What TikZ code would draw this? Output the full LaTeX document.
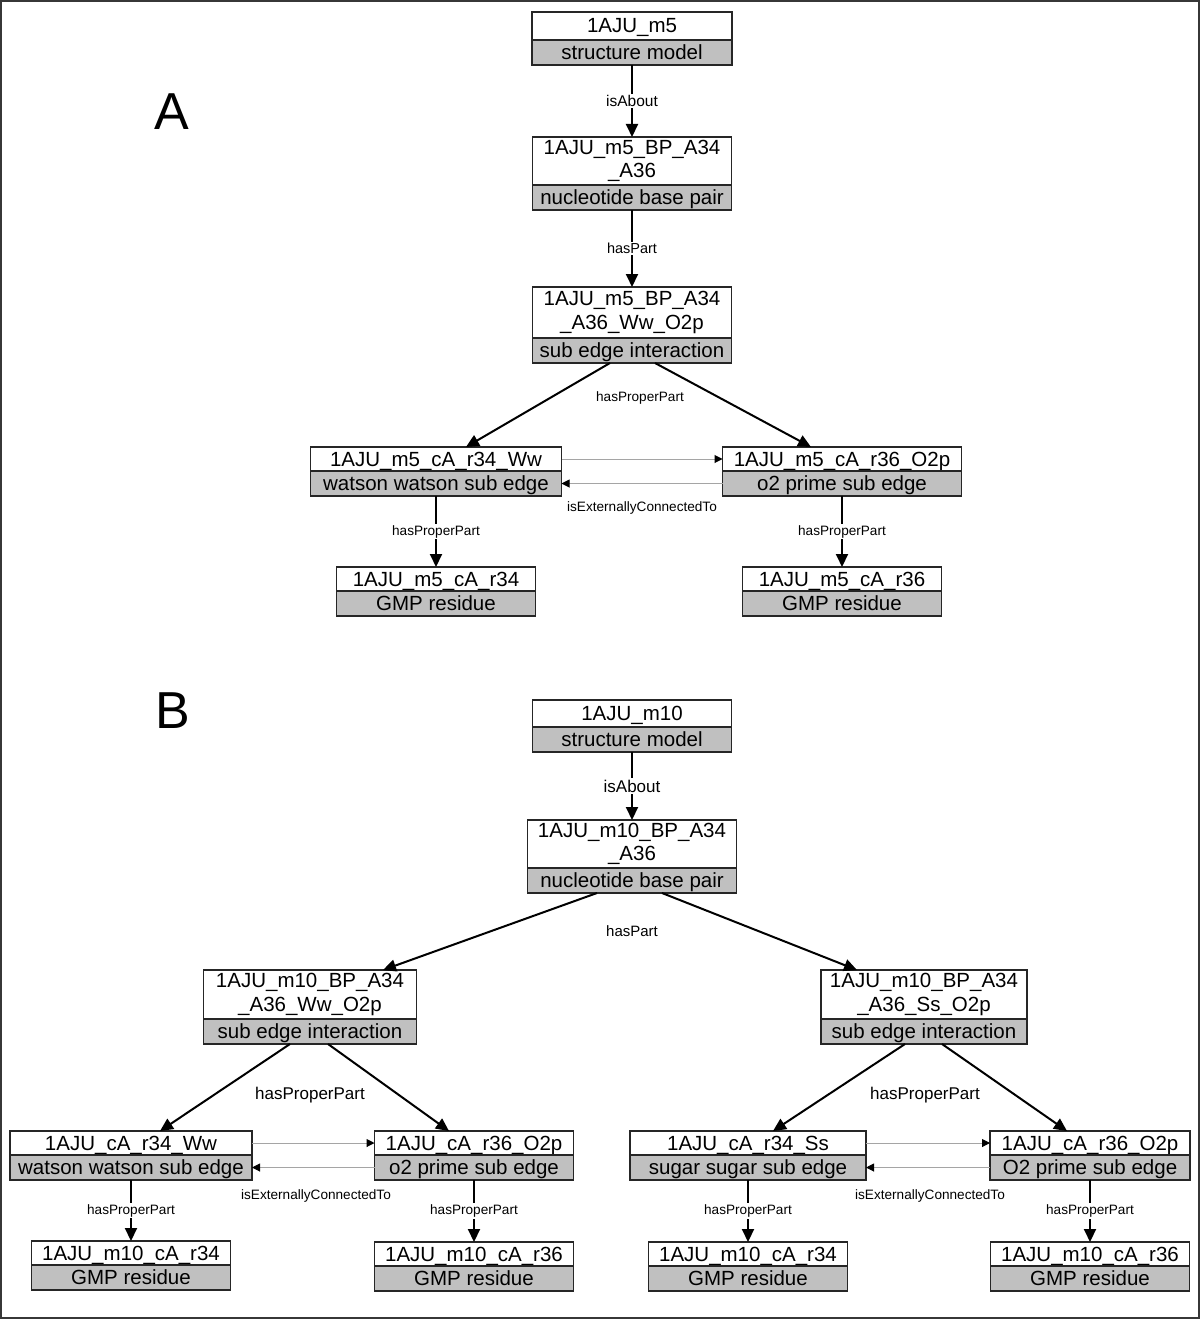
\documentclass[tikz,border=0pt]{standalone}
\usepackage{fontspec}
\setmainfont{Liberation Sans}
\usetikzlibrary{arrows.meta,positioning}

\definecolor{typegray}{RGB}{192,192,192}
\definecolor{relgray}{RGB}{165,165,165}
\definecolor{framegray}{RGB}{55,55,55}

\begin{document}
\begin{tikzpicture}[x=1pt,y=-1pt,
  box/.style={draw=black!85, line width=1.2pt, inner sep=0pt, outer sep=0pt,
    font=\fontsize{20.5}{23.5}\selectfont, minimum width=#1pt},
  namebox/.style={box=#1, fill=white, anchor=north, minimum height=24pt,
    text height=16pt, text depth=2pt},
  longbox/.style={box=#1, fill=white, anchor=north, minimum height=48pt, align=center},
  typebox/.style={box=#1, fill=typegray, minimum height=25pt,
    text height=16pt, text depth=2pt},
  rel/.style={-{Triangle[length=13pt,width=12pt]}, line width=2pt},
  extrel/.style={-{Triangle[length=8pt,width=8pt,color=black]}, line width=1pt, draw=relgray},
  lab/.style={fill=white, inner sep=1.5pt, font=\fontsize{13.6}{15}\selectfont},
  biglab/.style={fill=white, inner sep=1.5pt, font=\fontsize{17}{19}\selectfont},
  panel/.style={font=\fontsize{52}{54}\selectfont, inner sep=0pt}]

  \useasboundingbox (0,0) rectangle (1200,1319);
  \draw[framegray, line width=2pt] (1,1) rectangle (1199,1318);   % frame

  % ---------- A ----------
  \node[panel] (pA) at (172,112) {A};

  \node[namebox=200, minimum height=28pt] (m5) at (632,12) {1AJU\_m5};
  \node[typebox=200, below=0pt of m5] (m5t) {structure model};

  \node[longbox=199] (bp5) at (632,137) {1AJU\_m5\_BP\_A34\\\_A36};
  \node[typebox=199, below=0pt of bp5] (bp5t) {nucleotide base pair};

  \node[longbox=199, minimum height=51pt] (sub5) at (632,287) {1AJU\_m5\_BP\_A34\\\_A36\_Ww\_O2p};
  \node[typebox=199, below=0pt of sub5] (sub5t) {sub edge interaction};

  \node[namebox=251] (ww5) at (436,447) {1AJU\_m5\_cA\_r34\_Ww};
  \node[typebox=251, below=0pt of ww5] (ww5t) {watson watson sub edge};
  \node[namebox=239] (op5) at (842,447) {1AJU\_m5\_cA\_r36\_O2p};
  \node[typebox=239, below=0pt of op5] (op5t) {o2 prime sub edge};

  \node[namebox=199] (r34m5) at (436,567) {1AJU\_m5\_cA\_r34};
  \node[typebox=199, below=0pt of r34m5] (r34m5t) {GMP residue};
  \node[namebox=199] (r36m5) at (842,567) {1AJU\_m5\_cA\_r36};
  \node[typebox=199, below=0pt of r36m5] (r36m5t) {GMP residue};

  \draw[rel] (m5t) -- node[lab, font=\fontsize{15.5}{17}\selectfont] (ia5) {isAbout} (bp5);
  \draw[rel] (bp5t) -- node[lab, font=\fontsize{14.5}{16}\selectfont] (hp5) {hasPart} (sub5);
  \draw[rel] ([xshift=-22pt]sub5t.south) -- ([xshift=30pt]ww5.north);
  \draw[rel] ([xshift=23pt]sub5t.south) -- ([xshift=-31pt]op5.north);
  \node[lab] (hpp5) at (640,398) {hasProperPart};
  \draw[extrel] (ww5) -- (op5);
  \draw[extrel] (op5t) -- (ww5t);
  \node[lab] (iec5) at (642,508) {isExternallyConnectedTo};
  \draw[rel] (ww5t) -- node[lab] (hppa) {hasProperPart} (r34m5);
  \draw[rel] (op5t) -- node[lab] (hppb) {hasProperPart} (r36m5);

  % ---------- B ----------
  \node[panel] (pB) at (173,711) {B};

  \node[namebox=199, minimum height=27pt] (m10) at (632,700) {1AJU\_m10};
  \node[typebox=199, below=0pt of m10] (m10t) {structure model};

  \node[longbox=209] (bp10) at (632,820) {1AJU\_m10\_BP\_A34\\\_A36};
  \node[typebox=209, below=0pt of bp10] (bp10t) {nucleotide base pair};

  \node[longbox=213, minimum height=49pt] (ww10) at (310,970) {1AJU\_m10\_BP\_A34\\\_A36\_Ww\_O2p};
  \node[typebox=213, below=0pt of ww10] (ww10t) {sub edge interaction};
  \node[longbox=206, minimum height=49pt] (ss10) at (924,970) {1AJU\_m10\_BP\_A34\\\_A36\_Ss\_O2p};
  \node[typebox=206, below=0pt of ss10] (ss10t) {sub edge interaction};

  \node[namebox=242] (wwc) at (131,1131) {1AJU\_cA\_r34\_Ww};
  \node[typebox=242, below=0pt of wwc] (wwct) {watson watson sub edge};
  \node[namebox=199] (opc) at (474,1131) {1AJU\_cA\_r36\_O2p};
  \node[typebox=199, below=0pt of opc] (opct) {o2 prime sub edge};
  \node[namebox=236] (ssc) at (748,1131) {1AJU\_cA\_r34\_Ss};
  \node[typebox=236, below=0pt of ssc] (ssct) {sugar sugar sub edge};
  \node[namebox=200] (opd) at (1090,1131) {1AJU\_cA\_r36\_O2p};
  \node[typebox=200, below=0pt of opd] (opdt) {O2 prime sub edge};

  \node[namebox=199] (r34a) at (131,1241) {1AJU\_m10\_cA\_r34};
  \node[typebox=199, below=0pt of r34a] (r34at) {GMP residue};
  \node[namebox=199] (r36a) at (474,1242) {1AJU\_m10\_cA\_r36};
  \node[typebox=199, below=0pt of r36a] (r36at) {GMP residue};
  \node[namebox=199] (r34b) at (748,1242) {1AJU\_m10\_cA\_r34};
  \node[typebox=199, below=0pt of r34b] (r34bt) {GMP residue};
  \node[namebox=199] (r36b) at (1090,1242) {1AJU\_m10\_cA\_r36};
  \node[typebox=199, below=0pt of r36b] (r36bt) {GMP residue};

  \draw[rel] (m10t) -- node[biglab] (ia10) {isAbout} (bp10);
  \draw[rel] ([xshift=-35pt]bp10t.south) -- ([xshift=73pt]ww10.north);
  \draw[rel] ([xshift=30pt]bp10t.south) -- ([xshift=-67pt]ss10.north);
  \node[biglab, font=\fontsize{15}{17}\selectfont] (hp10) at (632,931) {hasPart};

  \draw[rel] ([xshift=-20pt]ww10t.south) -- ([xshift=29pt]wwc.north);
  \draw[rel] ([xshift=18pt]ww10t.south) -- ([xshift=-25pt]opc.north);
  \node[biglab] (hppc) at (310,1095) {hasProperPart};
  \draw[rel] ([xshift=-19pt]ss10t.south) -- ([xshift=25pt]ssc.north);
  \draw[rel] ([xshift=18pt]ss10t.south) -- ([xshift=-23pt]opd.north);
  \node[biglab] (hppd) at (925,1095) {hasProperPart};

  \draw[extrel] (wwc) -- (opc);
  \draw[extrel] (opct) -- (wwct);
  \node[lab] (iecc) at (316,1196) {isExternallyConnectedTo};
  \draw[extrel] (ssc) -- (opd);
  \draw[extrel] (opdt) -- (ssct);
  \node[lab] (iecd) at (930,1196) {isExternallyConnectedTo};

  \draw[rel] (wwct) -- node[lab] (hppe) {hasProperPart} (r34a);
  \draw[rel] (opct) -- node[lab] (hppf) {hasProperPart} (r36a);
  \draw[rel] (ssct) -- node[lab] (hppg) {hasProperPart} (r34b);
  \draw[rel] (opdt) -- node[lab] (hpph) {hasProperPart} (r36b);
\end{tikzpicture}
\end{document}
